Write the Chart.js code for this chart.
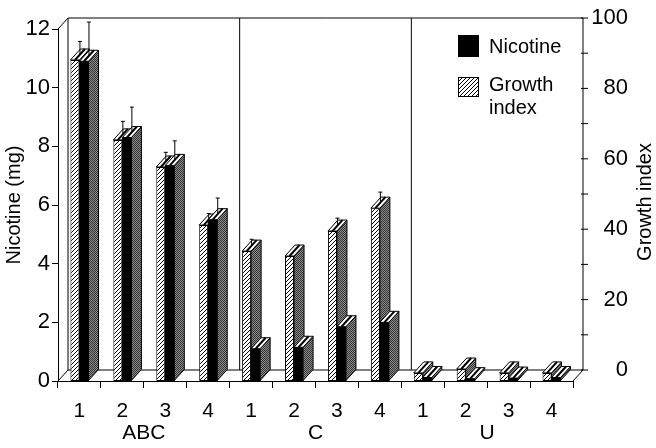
<!DOCTYPE html>
<html>
<head>
<meta charset="utf-8">
<script src="https://cdn.jsdelivr.net/npm/chart.js@4.4.1/dist/chart.umd.min.js"></script>
<style>
  html, body { margin: 0; padding: 0; background: #fff; }
  #wrap { width: 656px; height: 448px; }
</style>
</head>
<body>
<div id="wrap"><canvas id="chart" width="656" height="448"></canvas></div>
<script>
// --- DATA ---
const groups = ['ABC', 'C', 'U'];
const samples = ['1', '2', '3', '4'];
const nicotine = [10.9, 8.3, 7.35, 5.5, 1.1, 1.15, 1.85, 2.0, 0.12, 0.08, 0.1, 0.12];
const nicotineErr = [1.15, 0.85, 0.65, 0.55, 0, 0, 0, 0, 0, 0, 0, 0];
const growth = [91.2, 68.5, 60.8, 44.3, 36.9, 35.5, 42.6, 49.1, 2.3, 3.4, 2.3, 2.3];
const growthErr = [3.7, 3.7, 2.6, 1.7, 1.8, 0, 2.1, 3.0, 0, 0, 0, 0];
const nicotineTicks = [0, 1, 2, 3, 4, 5, 6, 7, 8, 9, 10, 11, 12];
const growthTicks = [0, 10, 20, 30, 40, 50, 60, 70, 80, 90, 100];

const labels = groups.flatMap(() => samples);

// --- LOOK ---
const FONT = '"Liberation Sans", Arial, sans-serif';
const depth = { dx: 10, dy: 11 };
Chart.defaults.font.family = FONT;
Chart.defaults.color = '#000';

const canvas = document.getElementById('chart');
const ctx = canvas.getContext('2d');

function hatch(step) {
    const c = document.createElement('canvas');
    c.width = c.height = step;
    const p = c.getContext('2d');
    p.fillStyle = '#fff';
    p.fillRect(0, 0, step, step);
    p.strokeStyle = '#000';
    p.lineWidth = 1;
    p.beginPath();
    p.moveTo(0, step); p.lineTo(step, 0);
    p.moveTo(-1, 1); p.lineTo(1, -1);
    p.moveTo(step - 1, step + 1); p.lineTo(step + 1, step - 1);
    p.stroke();
    return ctx.createPattern(c, 'repeat');
}

function stipple() {
    const c = document.createElement('canvas');
    c.width = c.height = 2;
    const p = c.getContext('2d');
    p.fillStyle = '#8c8c8c'; p.fillRect(0, 0, 2, 2);
    p.fillStyle = '#333'; p.fillRect(0, 0, 1, 1); p.fillRect(1, 1, 1, 1);
    return ctx.createPattern(c, 'repeat');
}

const hatchFill = hatch(4);
const sideFill = stipple();

function poly(pts, fill) {
    ctx.beginPath();
    ctx.moveTo(pts[0][0], pts[0][1]);
    pts.slice(1).forEach(p => ctx.lineTo(p[0], p[1]));
    ctx.closePath();
    if (fill) { ctx.fillStyle = fill; ctx.fill(); }
    ctx.stroke();
}

function line(x1, y1, x2, y2) {
    ctx.beginPath();
    ctx.moveTo(x1, y1);
    ctx.lineTo(x2, y2);
    ctx.stroke();
}

// side + top faces of one bar element
function drawBox(bar) {
    const { dx, dy } = depth;
    const l = bar.x - bar.width / 2, r = bar.x + bar.width / 2;
    const t = bar.y, b = bar.base;
    poly([[r, t], [r + dx, t - dy], [r + dx, b - dy], [r, b]], sideFill);
    poly([[l, t], [l + dx, t - dy], [r + dx, t - dy], [r, t]], '#fff');
    ctx.save();
    ctx.lineWidth = 2;
    line(bar.x, t, bar.x + dx, t - dy);
    ctx.restore();
}

function errBar(x, y0, y1) {
    line(x, y0, x, y1);
    line(x - 2, y1, x + 2, y1);
}

const threeD = {
    id: 'threeD',
    beforeDatasetsDraw(chart) {
        const { left: L, right: R, top: T, bottom: B } = chart.chartArea;
        const { dx, dy } = depth;
        const xs = chart.scales.x;
        ctx.save();
        ctx.strokeStyle = '#000';
        ctx.lineWidth = 1;
        line(L, T, L + dx, T - dy);
        line(L + dx, T - dy, R + dx, T - dy);
        line(L + dx, T - dy, L + dx, B - dy);
        line(L + dx, B - dy, R + dx, B - dy);
        line(L, B, L + dx, B - dy);
        line(R, B, R + dx, B - dy);
        line(R + dx, T - dy, R + dx, B - dy);
        [4, 8].forEach(k => {
            const xb = (xs.getPixelForValue(k - 1) + xs.getPixelForValue(k)) / 2 + dx;
            line(xb, T - dy, xb, B - dy);
        });
        ctx.restore();
    },
    afterDatasetsDraw(chart) {
        const g = chart.getDatasetMeta(0).data;
        const n = chart.getDatasetMeta(1).data;
        const yN = chart.scales.y, yG = chart.scales.yG;
        const { dx, dy } = depth;
        ctx.save();
        ctx.strokeStyle = '#000';
        ctx.lineWidth = 1;
        g.forEach((bar, i) => {
            drawBox(bar);
            const nb = n[i];
            const l = nb.x - nb.width / 2;
            ctx.fillStyle = '#000';
            ctx.fillRect(l, nb.y, nb.width, nb.base - nb.y);
            ctx.strokeRect(l, nb.y, nb.width, nb.base - nb.y);
            drawBox(nb);
        });
        g.forEach((bar, i) => {
            if (growthErr[i] > 0) {
                errBar(bar.x + dx / 2, bar.y - dy / 2, yG.getPixelForValue(growth[i] + growthErr[i]) - dy / 2);
            }
            const nb = n[i];
            if (nicotineErr[i] > 0) {
                errBar(nb.x + dx / 2, nb.y - dy / 2, yN.getPixelForValue(nicotine[i] + nicotineErr[i]) - dy / 2);
            }
        });
        ctx.restore();
    },
    afterDraw(chart) {
        const { right: R } = chart.chartArea;
        const { dx, dy } = depth;
        const yG = chart.scales.yG;
        const ax = R + dx;
        ctx.save();
        ctx.strokeStyle = '#000';
        ctx.fillStyle = '#000';
        ctx.lineWidth = 1;
        // right axis (back wall)
        growthTicks.forEach(v => {
            const y = yG.getPixelForValue(v) - dy;
            line(ax - 2, y, ax + 5, y);
            if (v % 20 === 0) {
                ctx.font = '22px ' + FONT;
                ctx.textAlign = 'right';
                ctx.textBaseline = 'middle';
                ctx.fillText(String(v), 628, y);
            }
        });
        ctx.save();
        ctx.translate(645, 202);
        ctx.rotate(-Math.PI / 2);
        ctx.font = '20px ' + FONT;
        ctx.textAlign = 'center';
        ctx.textBaseline = 'middle';
        ctx.fillText('Growth index', 0, 0);
        ctx.restore();
        // legend
        ctx.fillRect(458, 35, 21, 22);
        ctx.fillStyle = hatchFill;
        ctx.fillRect(458, 77, 21, 20);
        ctx.strokeRect(458.5, 77.5, 20, 19);
        ctx.fillStyle = '#000';
        ctx.font = '20px ' + FONT;
        ctx.textAlign = 'left';
        ctx.textBaseline = 'middle';
        ctx.fillText('Nicotine', 489, 47);
        ctx.fillText('Growth', 489, 85);
        ctx.fillText('index', 489, 108);
        ctx.restore();
    }
};

new Chart(ctx, {
    type: 'bar',
    data: {
        labels: labels,
        datasets: [
            {
                label: 'Growth index',
                data: growth,
                yAxisID: 'yG',
                backgroundColor: hatchFill,
                borderColor: '#000',
                borderWidth: 1,
                borderSkipped: false
            },
            {
                label: 'Nicotine',
                data: nicotine,
                yAxisID: 'y',
                backgroundColor: '#000',
                borderColor: '#000',
                borderWidth: 1,
                borderSkipped: false
            }
        ]
    },
    options: {
        responsive: false,
        animation: false,
        devicePixelRatio: 1,
        categoryPercentage: 0.42,
        barPercentage: 1,
        layout: { padding: { top: 29, right: 83, left: 0, bottom: 0 } },
        plugins: { legend: { display: false }, tooltip: { enabled: false } },
        scales: {
            x: {
                type: 'category',
                offset: true,
                grid: { offset: true, drawOnChartArea: false, tickLength: 7, color: '#000' },
                border: { display: true, color: '#000' },
                ticks: { font: { size: 21 }, padding: 11, maxRotation: 0, autoSkip: false },
                afterFit: s => { s.height = 40; }
            },
            xGroup: {
                type: 'category',
                position: 'bottom',
                labels: groups,
                offset: true,
                grid: { display: false },
                border: { display: false },
                ticks: { font: { size: 21 }, padding: -8, maxRotation: 0 },
                afterFit: s => { s.height = 27; }
            },
            y: {
                position: 'left',
                min: 0,
                max: 12,
                afterBuildTicks: s => { s.ticks = nicotineTicks.map(v => ({ value: v })); },
                ticks: { font: { size: 22 }, padding: 2, callback: v => (v % 2 === 0 ? v : '') },
                grid: { drawOnChartArea: false, tickLength: 6, color: '#000' },
                border: { display: true, color: '#000' },
                title: { display: true, text: 'Nicotine (mg)', font: { size: 20 }, padding: { top: 2, bottom: 0 } },
                afterFit: s => { s.width = 58; }
            },
            yG: {
                display: false,
                min: 0,
                max: 100
            }
        }
    },
    plugins: [threeD]
});
</script>
</body>
</html>
